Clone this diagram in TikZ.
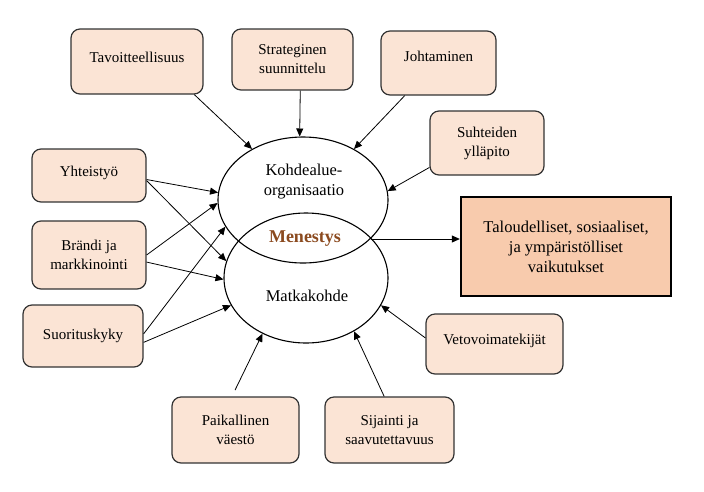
\documentclass[tikz,border=0pt]{standalone}
\usepackage{fontspec}
\setmainfont{Liberation Serif}
\usetikzlibrary{shapes.geometric, arrows.meta}
\definecolor{boxfill}{HTML}{FBE4D5}
\definecolor{resfill}{HTML}{F8CBAD}
\definecolor{menbrown}{HTML}{8B4A1F}

\begin{document}
\begin{tikzpicture}[x=1pt, y=-1pt,
    box/.style={draw=black!80, line width=1.2pt, rounded corners=9pt, fill=boxfill,
                align=center, inner sep=2pt, font=\fontsize{15}{19}\selectfont},
    oval/.style={draw, ellipse, line width=1.1pt, inner sep=0pt},
    ovaltext/.style={align=center, font=\fontsize{16.5}{20}\selectfont},
    result/.style={draw, line width=2.4pt, fill=resfill, align=center,
                   font=\fontsize{16.5}{20}\selectfont},
    arr/.style={-{Triangle[length=8pt, width=7pt]}, line width=0.8pt}]
    \useasboundingbox (0,0) rectangle (704,491);

    % keskusta: kaksi ellipsia
    \node[oval, minimum width=170pt, minimum height=126pt] (org) at (303, 200) {};
    \node[oval, minimum width=164pt, minimum height=130pt] (mat) at (306, 278) {};
    \node[ovaltext] (orgtxt) at (304, 182) {Kohdealue-\\organisaatio};
    \node[ovaltext] (mattxt) at (307, 296) {Matkakohde};
    \node[font=\fontsize{18}{20}\selectfont\bfseries, text=menbrown] (men) at (305, 239) {Menestys};

    % tekijät (text depth nostaa yksirivisen tekstin ylös)
    \node[box, minimum width=132pt, minimum height=65pt, text depth=9pt] (tav) at (137, 61.5) {Tavoitteellisuus};
    \node[box, minimum width=121pt, minimum height=61pt] (str) at (292.5, 59.5) {Strateginen\\suunnittelu};
    \node[box, minimum width=115pt, minimum height=64pt, text depth=14pt] (joh) at (438.5, 63) {Johtaminen};
    \node[box, minimum width=114pt, minimum height=64pt] (suh) at (487, 143)   {Suhteiden\\ylläpito};
    \node[box, minimum width=114pt, minimum height=53pt, text depth=8pt] (yht) at (89, 175.5) {Yhteistyö};
    \node[box, minimum width=114pt, minimum height=68pt] (bra) at (89, 255)    {Brändi ja\\markkinointi};
    \node[box, minimum width=120pt, minimum height=62pt] (suo) at (83, 336)    {Suorituskyky};
    \node[box, minimum width=127pt, minimum height=66pt] (pai) at (235.5, 430) {Paikallinen\\väestö};
    \node[box, minimum width=129pt, minimum height=66pt] (sij) at (389.5, 430) {Sijainti ja\\saavutettavuus};
    \node[box, minimum width=137pt, minimum height=60pt, text depth=9pt] (vet) at (494.5, 344) {Vetovoimatekijät};

    % vaikutukset
    \node[result, minimum width=210pt, minimum height=99pt] (tal) at (566, 246.5)
        {Taloudelliset, sosiaaliset,\\ja ympäristölliset\\vaikutukset};

    \foreach \a/\b in {tav.-30/org.135, str.-76/org.93, joh.224/org.45, suh.203/org.6,
                       yht.-4/org.175, yht.-5/mat.168, bra.0/org.182, bra.-7/mat.181,
                       suo.2/org.199, suo.-6/mat.200, sij.99/mat.-48, vet.175/mat.-20}
        \draw[arr] (\a) -- (\b);
    \draw[arr, shorten <=7pt] (pai.96) -- (mat.232);

    \coordinate (mx) at (371, 239);
    \draw[arr] (mx) -- (mx -| tal.west);
\end{tikzpicture}
\end{document}
